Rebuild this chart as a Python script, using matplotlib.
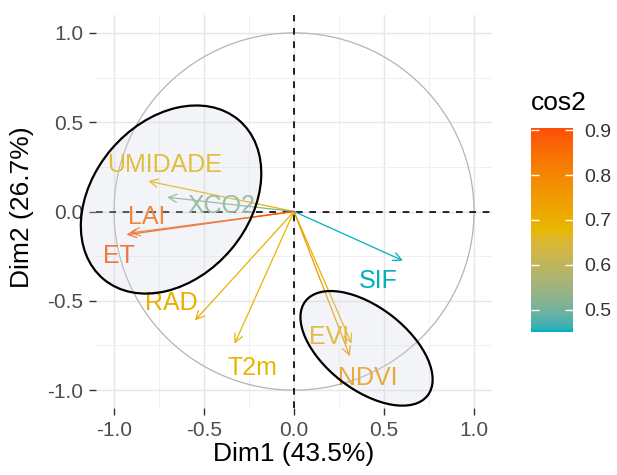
import numpy as np
import matplotlib
matplotlib.use("Agg")
import matplotlib.pyplot as plt
from matplotlib.colors import ListedColormap, Normalize, to_rgb
from matplotlib.patches import Circle, Ellipse, FancyArrowPatch
from matplotlib.cm import ScalarMappable

plt.rcParams['font.family'] = ['Liberation Sans', 'DejaVu Sans']

# variable coordinates on Dim1 / Dim2 (arrow tips)
variables = ["UMIDADE", "XCO2", "LAI", "ET", "RAD", "T2m", "EVI", "NDVI", "SIF"]
dim1 = [-0.81, -0.705, -0.91, -0.93, -0.55, -0.33, 0.32, 0.31, 0.605]
dim2 = [0.17, 0.08, -0.12, -0.13, -0.61, -0.74, -0.74, -0.81, -0.275]
cos2 = [0.69, 0.52, 0.86, 0.90, 0.70, 0.68, 0.70, 0.76, 0.45]
# label positions (repelled text)
label_x = [-0.72, -0.405, -0.82, -0.97, -0.68, -0.23, 0.195, 0.41, 0.47]
label_y = [0.26, 0.03, -0.03, -0.25, -0.51, -0.875, -0.70, -0.93, -0.39]

# highlighted groups: center x, center y, width, height, angle
groups_cx = [-0.683, 0.403]
groups_cy = [0.067, -0.766]
groups_w = [1.165, 0.86]
groups_h = [0.87, 0.46]
groups_ang = [50, -38]

cbar_ticks = [0.5, 0.6, 0.7, 0.8, 0.9]
axis_ticks = [-1.0, -0.5, 0.0, 0.5, 1.0]
gradient_cols = ["#00AFBB", "#E7B800", "#FC4E07"]


# ggplot interpolates gradients in Lab space
def rgb_to_lab(c):
    c = np.array(c)
    lin = np.where(c <= 0.04045, c / 12.92, ((c + 0.055) / 1.055) ** 2.4)
    m = np.array([[0.4124, 0.3576, 0.1805],
                  [0.2126, 0.7152, 0.0722],
                  [0.0193, 0.1192, 0.9505]])
    xyz = m @ lin / np.array([0.95047, 1.0, 1.08883])
    f = np.where(xyz > 0.008856, np.cbrt(xyz), 7.787 * xyz + 16 / 116)
    return np.array([116 * f[1] - 16, 500 * (f[0] - f[1]), 200 * (f[1] - f[2])])


def lab_to_rgb(lab):
    fy = (lab[0] + 16) / 116
    fx = fy + lab[1] / 500
    fz = fy - lab[2] / 200
    f = np.array([fx, fy, fz])
    xyz = np.where(f ** 3 > 0.008856, f ** 3, (f - 16 / 116) / 7.787)
    xyz = xyz * np.array([0.95047, 1.0, 1.08883])
    minv = np.array([[3.2406, -1.5372, -0.4986],
                     [-0.9689, 1.8758, 0.0415],
                     [0.0557, -0.2040, 1.0570]])
    lin = minv @ xyz
    c = np.where(lin <= 0.0031308, 12.92 * lin, 1.055 * np.clip(lin, 0, None) ** (1 / 2.4) - 0.055)
    return np.clip(c, 0, 1)


labs = [rgb_to_lab(to_rgb(c)) for c in gradient_cols]
steps = []
for t in np.linspace(0, 1, 256):
    seg = min(int(t * 2), 1)
    u = t * 2 - seg
    steps.append(lab_to_rgb(labs[seg] * (1 - u) + labs[seg + 1] * u))
cmap = ListedColormap(steps)
norm = Normalize(vmin=0.45, vmax=0.905)

fig = plt.figure(figsize=(6.17, 4.75), dpi=100)
ax = fig.add_axes([96 / 617, 1 - 408 / 475, 396 / 617, 393 / 475])

ax.set_xlim(-1.1, 1.1)
ax.set_ylim(-1.1, 1.1)
ax.set_xticks(axis_ticks)
ax.set_yticks(axis_ticks)
ax.set_xticks([-0.75, -0.25, 0.25, 0.75], minor=True)
ax.set_yticks([-0.75, -0.25, 0.25, 0.75], minor=True)
ax.grid(which='major', color='#e6e6e6', lw=1.0)
ax.grid(which='minor', color='#f0f0f0', lw=0.7)
ax.set_axisbelow(True)
for s in ax.spines.values():
    s.set_visible(False)
ax.tick_params(which='major', length=5, width=1, color='#333333',
               labelsize=15, labelcolor='#4d4d4d', pad=4)
ax.tick_params(which='minor', length=0)
ax.set_xticklabels(["-1.0", "-0.5", "0.0", "0.5", "1.0"])
ax.set_yticklabels(["-1.0", "-0.5", "0.0", "0.5", "1.0"])
ax.set_xlabel("Dim1 (43.5%)", fontsize=19, labelpad=2)
ax.set_ylabel("Dim2 (26.7%)", fontsize=19)
ax.yaxis.set_label_coords(-0.157, 0.51)

# correlation circle
ax.add_patch(Circle((0, 0), 1, fill=False, ec='#b4b4b4', lw=0.9, zorder=1))
ax.axhline(0, color='black', ls=(0, (4, 4)), lw=1.2, zorder=2)
ax.axvline(0, color='black', ls=(0, (4, 4)), lw=1.2, zorder=2)

for i, name in enumerate(variables):
    col = cmap(norm(cos2[i]))
    arr = FancyArrowPatch((0, 0), (dim1[i], dim2[i]),
                          arrowstyle='->,head_length=0.6,head_width=0.3',
                          mutation_scale=10, lw=0.9, color=col,
                          shrinkA=0, shrinkB=0, zorder=3)
    ax.add_patch(arr)
    ax.text(label_x[i], label_y[i], name, color=col, fontsize=18,
            ha='center', va='center', zorder=4)

for i in range(len(groups_cx)):
    ax.add_patch(Ellipse((groups_cx[i], groups_cy[i]), groups_w[i], groups_h[i],
                         angle=groups_ang[i], facecolor=(0.82, 0.85, 0.89, 0.28),
                         edgecolor='black', lw=1.6, zorder=5, clip_on=False))

# colour bar
cax = fig.add_axes([531 / 617, 1 - 332 / 475, 42 / 617, 204 / 475])
cb = fig.colorbar(ScalarMappable(norm=norm, cmap=cmap), cax=cax, ticks=cbar_ticks)
cb.outline.set_visible(False)
cax.tick_params(axis='y', direction='in', length=6, width=1, color='white',
                left=True, right=True, labelsize=14, labelcolor='#333333', pad=8)
cax.set_yticklabels(["0.5", "0.6", "0.7", "0.8", "0.9"])
fig.text(531 / 617, 1 - 103 / 475, "cos2", fontsize=19, ha='left', va='center')

fig.savefig("out.png", dpi=100)
